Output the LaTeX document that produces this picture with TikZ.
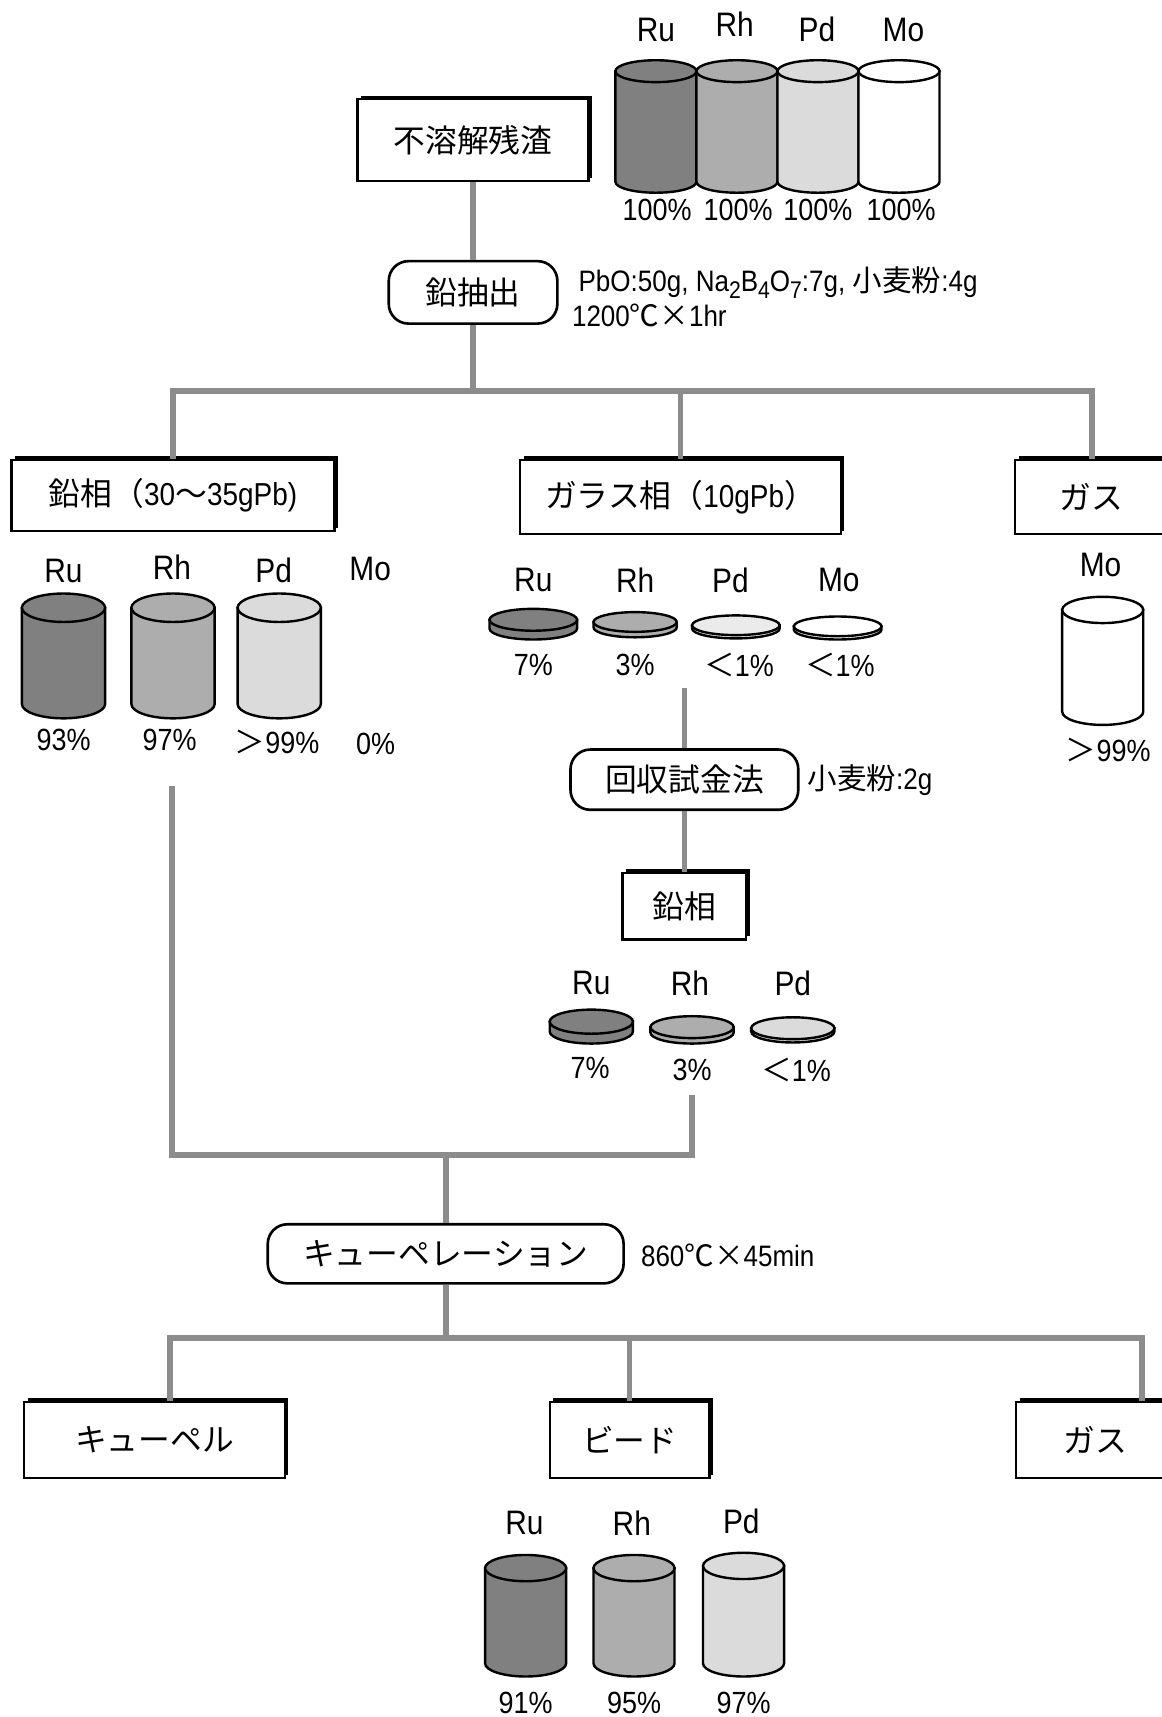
\documentclass[tikz,border=0pt]{standalone}
\usepackage{fontspec}
\setmainfont[FakeStretch=0.88]{Liberation Sans}
\newfontfamily\cjk{Noto Sans CJK JP}
\usetikzlibrary{shadows}
\definecolor{lnc}{gray}{0.55}
\definecolor{ruc}{gray}{0.50}
\definecolor{rhc}{gray}{0.68}
\definecolor{pdc}{gray}{0.86}
\definecolor{pdl}{gray}{0.92}
\newcommand\J[1]{{\cjk #1}}
\newcommand\sbs[1]{\raisebox{-0.4ex}{\fontsize{11}{11}\selectfont #1}}
% cylinder: cx, top y, bottom y, rx, ry, colour
\newcommand\Cyl[6]{%
  \filldraw[cylline, fill=#6] ({#1-#4},#2) -- ({#1-#4},#3)
    arc[start angle=180, end angle=0, x radius=#4, y radius=#5] -- ({#1+#4},#2) -- cycle;
  \filldraw[cylline, fill=#6] (#1,#2) ellipse [x radius=#4, y radius=#5];}
% disc: cx, top y, rx, ry, thickness, colour
\newcommand\Disc[6]{%
  \filldraw[cylline, fill=#6] ({#1-#3},#2) -- ({#1-#3},{#2+#5})
    arc[start angle=180, end angle=0, x radius=#3, y radius=#4] -- ({#1+#3},#2) -- cycle;
  \filldraw[cylline, fill=#6] (#1,#2) ellipse [x radius=#3, y radius=#4];}
\begin{document}
\begin{tikzpicture}[x=0.5pt, y=-0.5pt,
  conn/.style={draw=lnc, line width=2.6pt},
  cylline/.style={draw=black, line width=1.1pt},
  box/.style={draw=black, line width=1pt, fill=white, inner sep=0pt,
    font=\fontsize{14.5}{17}\selectfont,
    drop shadow={shadow xshift=1.6pt, shadow yshift=1.6pt, fill=black, opacity=1}},
  rbox/.style={draw=black, line width=1.2pt, fill=white, inner sep=0pt,
    rounded corners=9pt, font=\fontsize{14.5}{17}\selectfont},
  lbl/.style={inner sep=0pt, font=\fontsize{15.5}{17}\selectfont},
  pct/.style={inner sep=0pt, font=\fontsize{14}{15}\selectfont},
  note/.style={inner sep=0pt, anchor=west, font=\fontsize{13.5}{15}\selectfont}]
\useasboundingbox[fill=white] (0,0) rectangle (1061,1568);

% ---------- top: residue ----------
\node[box, minimum width=105.5pt, minimum height=37.5pt] (top) at (432,128) {\J{不溶解残渣}};
\Cyl{599}{65}{166}{37}{10}{ruc}
\Cyl{673}{65}{166}{37}{10}{rhc}
\Cyl{747}{65}{166}{37}{10}{pdc}
\Cyl{821}{65}{166}{37}{10}{white}
\node[lbl] (t-ru) at (599,27) {Ru};
\node[lbl] (t-rh) at (671,22) {Rh};
\node[lbl] (t-pd) at (746,27) {Pd};
\node[lbl] (t-mo) at (825,27) {Mo};
\node[pct] (t-ru-p) at (600,192) {100\%};
\node[pct] (t-rh-p) at (674,192) {100\%};
\node[pct] (t-pd-p) at (747,192) {100\%};
\node[pct] (t-mo-p) at (823,192) {100\%};

% ---------- lead extraction ----------
\node[rbox, minimum width=77pt, minimum height=28.5pt] (pbx) at (432,267) {\J{鉛抽出}};
\node[note] (pbx-n1) at (528,258) {PbO:50g, Na\sbs{2}B\sbs{4}O\sbs{7}:7g, \J{小麦粉}:4g};
\node[note] (pbx-n2) at (522,288) {1200\J{℃×}1hr};

% ---------- first split ----------
\node[box, minimum width=147.5pt, minimum height=32.5pt] (lp) at (158,452.5) {\J{鉛相（}30\J{～}35gPb)};
\node[box, minimum width=146.5pt, minimum height=34pt] (gl) at (621.5,454) {\J{ガラス相（}10gPb\J{）}};
\node[box, minimum width=70pt, minimum height=34pt] (gs1) at (997,454) {\J{ガス}};

\coordinate (j1) at (432,357);
\draw[conn] (top.south) -- (pbx.north);
\draw[conn] (pbx.south) -- (j1);
\draw[conn] (j1) -| (lp.north);
\draw[conn] (j1) -| (gs1.north);
\draw[conn] (j1 -| gl.north) -- (gl.north);

% lead phase contents
\Cyl{58}{555}{643}{38}{13}{ruc}
\Cyl{158}{555}{643}{38}{13}{rhc}
\Cyl{255}{555}{643}{38}{13}{pdc}
\node[lbl] (l-ru) at (58,521) {Ru};
\node[lbl] (l-rh) at (157,518) {Rh};
\node[lbl] (l-pd) at (250,521) {Pd};
\node[lbl] (l-mo) at (338,520) {Mo};
\node[pct] (l-ru-p) at (58,676) {93\%};
\node[pct] (l-rh-p) at (155,676) {97\%};
\node[pct] (l-pd-p) at (253,678) {\J{＞}99\%};
\node[pct] (l-mo-p) at (343,679) {0\%};

% glass phase contents
\Disc{487}{566}{40}{10}{8}{ruc}
\Disc{580}{568}{38}{9}{5}{rhc}
\Disc{672}{571}{40}{9}{3}{pdl}
\Disc{765}{572}{40}{9}{3}{white}
\node[lbl] (g-ru) at (487,530) {Ru};
\node[lbl] (g-rh) at (580,530) {Rh};
\node[lbl] (g-pd) at (667,530) {Pd};
\node[lbl] (g-mo) at (766,530) {Mo};
\node[pct] (g-ru-p) at (487,607) {7\%};
\node[pct] (g-rh-p) at (580,607) {3\%};
\node[pct] (g-pd-p) at (675,607) {\J{＜}1\%};
\node[pct] (g-mo-p) at (767,607) {\J{＜}1\%};

% gas contents
\Cyl{1007}{557}{650}{37}{12}{white}
\node[lbl] (s-mo) at (1005,516) {Mo};
\node[pct] (s-mo-p) at (1012,685) {\J{＞}99\%};

% ---------- recovery assay ----------
\coordinate (g-out) at (625,628);
\node[rbox, minimum width=104pt, minimum height=27.5pt] (ra) at (625,712) {\J{回収試金法}};
\node[note] (ra-n) at (737,712) {\J{小麦粉}:2g};
\node[box, minimum width=56.5pt, minimum height=30.5pt] (lp2) at (625,827.5) {\J{鉛相}};
\draw[conn] (g-out) -- (ra.north);
\draw[conn] (ra.south) -- (lp2.north);

\Disc{540}{933}{38}{11}{9}{ruc}
\Disc{632}{938}{38}{10}{5}{rhc}
\Disc{724}{939}{38}{10}{3}{pdc}
\node[lbl] (r-ru) at (540,898) {Ru};
\node[lbl] (r-rh) at (630,898) {Rh};
\node[lbl] (r-pd) at (724,898) {Pd};
\node[pct] (r-ru-p) at (539,975) {7\%};
\node[pct] (r-rh-p) at (632,977) {3\%};
\node[pct] (r-pd-p) at (727,977) {\J{＜}1\%};

% ---------- merge to cupellation ----------
\coordinate (l-out) at (157,718);
\coordinate (r-out) at (632,1000);
\coordinate (j2) at (407,1055);
\node[rbox, minimum width=162.5pt, minimum height=27pt] (cp) at (407,1145) {\J{キューペレーション}};
\node[note] (cp-n) at (585,1146) {860\J{℃×}45min};
\draw[conn] (l-out) |- (j2);
\draw[conn] (r-out) |- (j2);
\draw[conn] (j2) -- (cp.north);

% ---------- second split ----------
\node[box, minimum width=119pt, minimum height=35pt] (cu) at (141,1315) {\J{キューペル}};
\node[box, minimum width=73pt, minimum height=35pt] (bd) at (575,1315) {\J{ビード}};
\node[box, minimum width=72pt, minimum height=35pt] (gs2) at (1000,1315) {\J{ガス}};
\coordinate (j3) at (407,1222);
\coordinate (k1) at (155,1222);
\coordinate (k3) at (1043,1222);
\draw[conn] (cp.south) -- (j3);
\draw[conn] (k1 |- cu.north) -- (k1) -- (k3) -- (k3 |- gs2.north);
\draw[conn] (j3 -| bd.north) -- (bd.north);

% bead contents
\Cyl{480}{1432}{1519}{37}{12}{ruc}
\Cyl{579}{1432}{1519}{37}{12}{rhc}
\Cyl{679}{1430}{1519}{37}{12}{pdc}
\node[lbl] (b-ru) at (479,1391) {Ru};
\node[lbl] (b-rh) at (577,1391) {Rh};
\node[lbl] (b-pd) at (677,1389) {Pd};
\node[pct] (b-ru-p) at (480,1555) {91\%};
\node[pct] (b-rh-p) at (579,1555) {95\%};
\node[pct] (b-pd-p) at (679,1555) {97\%};
\end{tikzpicture}
\end{document}
